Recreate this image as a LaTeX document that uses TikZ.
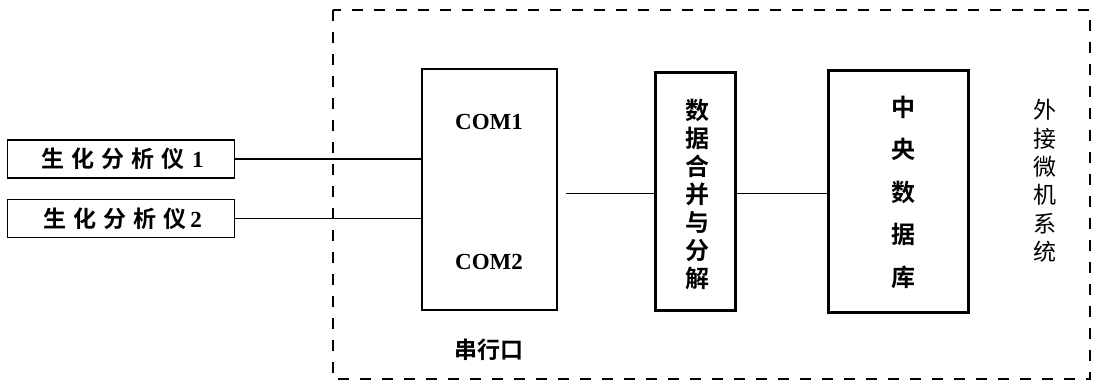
\documentclass[tikz,border=0pt]{standalone}
\usepackage{fontspec}
\setmainfont{Liberation Serif}
\newfontfamily\cjk{Noto Sans CJK SC}[BoldFont={Noto Sans CJK SC Bold}]
\newcommand{\cc}[1]{\makebox[30pt]{\cjk\bfseries #1}}
\begin{document}
\begin{tikzpicture}[x=1pt,y=-1pt,
  thinbox/.style={draw,line width=1.8pt,inner sep=0pt},
  thickbox/.style={draw,line width=3pt,inner sep=0pt},
  wire/.style={line width=1.6pt},
  fine/.style={line width=1pt},
  lbl/.style={inner sep=0pt,font=\fontsize{23}{26}\selectfont}]
\useasboundingbox (0,0) rectangle (1102,389);
% dashed enclosure
\draw[line width=1.6pt,dash pattern=on 11pt off 11pt] (333,10) rectangle (1090,379);
% analyzer boxes
\node[thinbox,minimum width=227pt,minimum height=38pt] (a1) at (121,159) {};
\node[lbl] at (a1.center) {\cc{生}\cc{化}\cc{分}\cc{析}\cc{仪}\,\textbf{1}};
\node[thinbox,minimum width=227pt,minimum height=38pt] (a2) at (121,218.5) {};
\node[lbl] at (a2.center) {\cc{生}\cc{化}\cc{分}\cc{析}\cc{仪}\textbf{2}};
% serial port box
\node[thinbox,minimum width=135pt,minimum height=241pt] (com) at (489.5,189.5) {};
\node[lbl,font=\fontsize{23}{26}\selectfont\bfseries] (c1) at (489,122) {COM1};
\node[lbl,font=\fontsize{23}{26}\selectfont\bfseries] (c2) at (489,262) {COM2};
\node[lbl,font=\fontsize{23}{26}\selectfont\cjk\bfseries] (ck) at (489,350) {串行口};
% merge box
\node[thickbox,minimum width=80pt,minimum height=238pt] (mg) at (695,191) {};
\node[lbl,align=center,font=\fontsize{24}{28}\selectfont\cjk\bfseries] at (697,194) {数\\据\\合\\并\\与\\分\\解};
% database box
\node[thickbox,minimum width=140pt,minimum height=242pt] (db) at (898,191) {};
\node[lbl,align=center,font=\fontsize{24}{42.5}\selectfont\cjk\bfseries] at (903,192) {中\\央\\数\\据\\库};
% outer label
\node[lbl,align=center,font=\fontsize{23}{28.4}\selectfont\cjk] (ext) at (1045,181) {外\\接\\微\\机\\系\\统};
% connectors
\draw[wire] (a1.east) -- (a1.east -| com.west);
\draw[wire] (a2.east) -- (a2.east -| com.west);
\coordinate (m1) at ([xshift=8pt]com.east |- 0,193);
\draw[fine] (m1) -- (mg.west |- m1);
\draw[fine] (mg.east |- 0,193) -- (db.west |- 0,193);
\end{tikzpicture}
\end{document}
